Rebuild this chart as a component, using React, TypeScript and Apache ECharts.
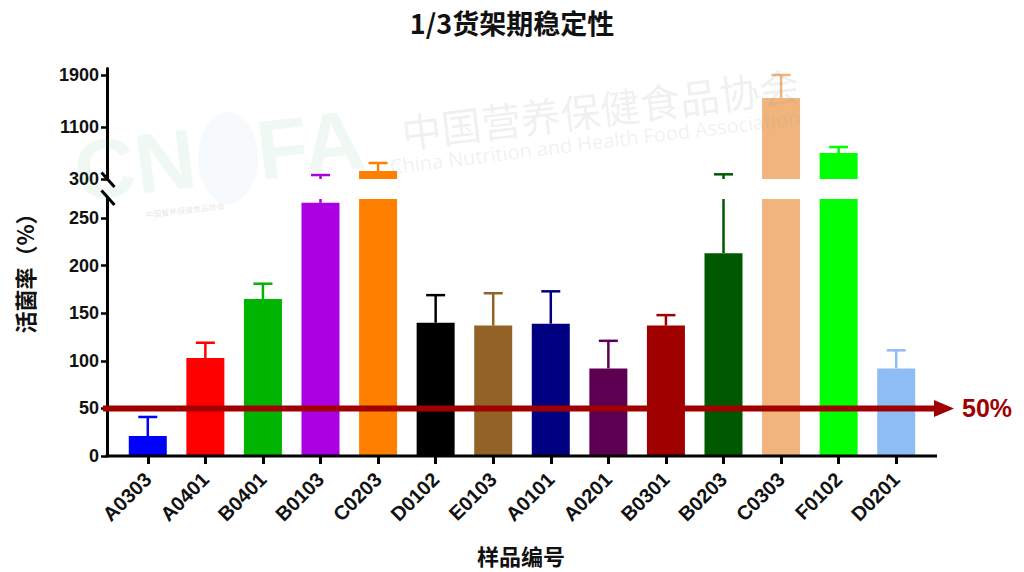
import React, { useEffect, useRef } from 'react';
import * as echarts from 'echarts';

const CATEGORIES = ['A0303', 'A0401', 'B0401', 'B0103', 'C0203', 'D0102', 'E0103', 'A0101', 'A0201', 'B0301', 'B0203', 'C0303', 'F0102', 'D0201'];
const MEANS = [21, 103, 165, 266, 423, 140, 137, 139, 92, 137, 213, 1546, 700, 92];
const ERR_TOPS = [41, 119, 181, 361, 546, 169, 171, 173, 121, 148, 372, 1900, 792, 111];
const COLORS = ['#0000ff', '#ff0000', '#00b400', '#aa00e2', '#ff8000', '#000000', '#936226', '#000080', '#5e0052', '#a00000', '#005800', '#f0b47c', '#00ff00', '#8ebcf4'];
const LOWER_TICKS = [0, 50, 100, 150, 200, 250];
const UPPER_TICKS = [300, 1100, 1900];
const LOWER_MAX = 270;
const UPPER_MIN = 300;
const UPPER_MAX = 2000;
const THRESHOLD = 50;
const THRESHOLD_LABEL = '50%';
const TITLE = '1/3货架期稳定性';
const Y_NAME = '活菌率（%）';
const X_NAME = '样品编号';

const LATIN = '"Liberation Sans", Arial, sans-serif';
const CJK = '"Noto Sans CJK SC", sans-serif';
const RED = '#a00000';

const GRID_LEFT = 119;
const GRID_WIDTH = 806;
const UP_TOP = 68.5;
const UP_H = 110.5;
const LO_TOP = 199;
const LO_H = 257;

function errRender(segment: 'upper' | 'lower') {
  return (params: any, api: any) => {
    const i = params.dataIndex;
    const m = MEANS[i];
    const e = ERR_TOPS[i];
    let lo: number, hi: number, cap: boolean;
    if (segment === 'upper') {
      if (e <= UPPER_MIN) return null;
      lo = Math.max(m, UPPER_MIN);
      hi = e;
      cap = true;
    } else {
      if (m >= LOWER_MAX) return null;
      lo = m;
      hi = Math.min(e, LOWER_MAX);
      cap = e <= LOWER_MAX;
    }
    const p1 = api.coord([i, lo]);
    const p2 = api.coord([i, hi]);
    const color = COLORS[i];
    const children: any[] = [
      { type: 'line', shape: { x1: p1[0], y1: p1[1], x2: p2[0], y2: p2[1] }, style: { stroke: color, lineWidth: 2.5 } },
    ];
    if (cap) {
      children.push({ type: 'line', shape: { x1: p2[0] - 9.5, y1: p2[1], x2: p2[0] + 9.5, y2: p2[1] }, style: { stroke: color, lineWidth: 2.5 } });
    }
    return { type: 'group', children };
  };
}

function buildGraphic(yThr: number): any[] {
  const axisBottom = LO_TOP + LO_H;
  return [
    // watermark
    { type: 'text', x: 600, y: 108, rotation: 0.12, z: 50, style: { text: '中国营养保健食品协会', font: `40px ${CJK}`, fill: 'rgba(160,160,160,0.16)', align: 'center', verticalAlign: 'middle' } },
    { type: 'text', x: 595, y: 142, rotation: 0.12, z: 50, style: { text: 'China Nutrition and Health Food Association', font: `20px "Open Sans", sans-serif`, fill: 'rgba(160,160,160,0.16)', align: 'center', verticalAlign: 'middle' } },
    { type: 'text', x: 135, y: 165, rotation: 0.12, z: 50, style: { text: 'CN', font: `bold 84px ${LATIN}`, fill: 'rgba(40,160,80,0.07)', align: 'center', verticalAlign: 'middle' } },
    { type: 'text', x: 310, y: 145, rotation: 0.12, z: 50, style: { text: 'FA', font: `bold 84px ${LATIN}`, fill: 'rgba(40,160,80,0.07)', align: 'center', verticalAlign: 'middle' } },
    { type: 'ellipse', z: 50, shape: { cx: 228, cy: 158, rx: 30, ry: 46 }, style: { fill: 'rgba(40,120,200,0.04)' } },
    { type: 'text', x: 185, y: 210, rotation: 0.12, z: 50, style: { text: '中国营养保健食品协会', font: `8px ${CJK}`, fill: 'rgba(120,120,120,0.2)', align: 'center', verticalAlign: 'middle' } },
    // x axis line
    { type: 'line', z: 60, shape: { x1: 105.5, y1: axisBottom, x2: 937, y2: axisBottom }, style: { stroke: '#000', lineWidth: 3 } },
    // break marks
    { type: 'line', z: 60, shape: { x1: 101.5, y1: 172.5, x2: 114.5, y2: 187 }, style: { stroke: '#000', lineWidth: 3 } },
    { type: 'line', z: 60, shape: { x1: 101.5, y1: 190.5, x2: 114.5, y2: 205 }, style: { stroke: '#000', lineWidth: 3 } },
    // threshold line with arrow
    { type: 'line', z: 70, shape: { x1: 103, y1: yThr, x2: 937, y2: yThr }, style: { stroke: RED, lineWidth: 6 } },
    { type: 'polygon', z: 70, shape: { points: [[934, yThr - 8.5], [954, yThr], [934, yThr + 8.5]] }, style: { fill: RED } },
    { type: 'text', z: 70, x: 962, y: yThr, style: { text: THRESHOLD_LABEL, font: `bold 25px ${LATIN}`, fill: RED, align: 'left', verticalAlign: 'middle' } },
    // axis names
    { type: 'text', z: 60, x: 24, y: 268, rotation: Math.PI / 2, style: { text: Y_NAME, font: `bold 22px ${CJK}`, fill: '#111', align: 'center', verticalAlign: 'middle' } },
    { type: 'text', z: 60, x: 521, y: 555, style: { text: X_NAME, font: `bold 22px ${CJK}`, fill: '#111', align: 'center', verticalAlign: 'middle' } },
  ];
}

export default function App() {
  const ref = useRef<HTMLDivElement>(null);
  useEffect(() => {
    if (!ref.current) return;
    const chart = echarts.init(ref.current, undefined, { renderer: 'svg' });
    const yLabel = { show: true, color: '#111', fontSize: 18, fontWeight: 'bold', fontFamily: LATIN, margin: 8, formatter: (v: number) => String(v) };
    const yTick = { show: true, length: 6, lineStyle: { color: '#000', width: 2.5 } };
    const yLine = { show: true, lineStyle: { color: '#000', width: 3 } };
    const colorFn = (p: any) => COLORS[p.dataIndex];
    const errData = MEANS.map((m, i) => [i, m, ERR_TOPS[i]]);
    chart.setOption({
      animation: false,
      backgroundColor: '#ffffff',
      title: {
        text: TITLE,
        left: 'center',
        top: 4,
        textStyle: { fontSize: 27, fontWeight: 'bold', color: '#111', fontFamily: CJK },
      },
      grid: [
        { left: GRID_LEFT, width: GRID_WIDTH, top: UP_TOP, height: UP_H },
        { left: GRID_LEFT, width: GRID_WIDTH, top: LO_TOP, height: LO_H },
      ],
      xAxis: [
        {
          type: 'category', gridIndex: 0, data: CATEGORIES,
          axisLine: { show: false }, axisTick: { show: false }, axisLabel: { show: false }, splitLine: { show: false },
        },
        {
          type: 'category', gridIndex: 1, data: CATEGORIES,
          axisLine: { show: false },
          axisTick: { show: true, alignWithLabel: true, length: 8, lineStyle: { color: '#000', width: 3 } },
          axisLabel: { rotate: 45, color: '#111', fontSize: 20, fontWeight: 'bold', fontFamily: LATIN, margin: 20 },
          splitLine: { show: false },
        },
      ],
      yAxis: [
        {
          type: 'value', gridIndex: 0, min: UPPER_MIN, max: UPPER_MAX, offset: 12,
          axisLine: yLine,
          axisTick: { ...yTick, customValues: UPPER_TICKS },
          axisLabel: { ...yLabel, customValues: UPPER_TICKS },
          splitLine: { show: false },
        },
        {
          type: 'value', gridIndex: 1, min: 0, max: LOWER_MAX, interval: 50, offset: 12,
          axisLine: yLine,
          axisTick: { ...yTick, customValues: LOWER_TICKS },
          axisLabel: { ...yLabel, customValues: LOWER_TICKS },
          splitLine: { show: false },
        },
      ],
      series: [
        {
          type: 'bar', xAxisIndex: 0, yAxisIndex: 0, barWidth: 38, clip: true,
          data: MEANS.map((v) => (v > UPPER_MIN ? v : null)),
          itemStyle: { color: colorFn },
        },
        {
          type: 'bar', xAxisIndex: 1, yAxisIndex: 1, barWidth: 38, clip: true,
          data: MEANS.map((v) => Math.min(v, LOWER_MAX)),
          itemStyle: { color: colorFn },
        },
        {
          type: 'custom', xAxisIndex: 0, yAxisIndex: 0, z: 3,
          renderItem: errRender('upper'), data: errData, encode: { x: 0, y: [1, 2] },
        },
        {
          type: 'custom', xAxisIndex: 1, yAxisIndex: 1, z: 3,
          renderItem: errRender('lower'), data: errData, encode: { x: 0, y: [1, 2] },
        },
      ],
    });
    const yThr = chart.convertToPixel({ yAxisIndex: 1 }, THRESHOLD) as unknown as number;
    chart.setOption({ graphic: buildGraphic(yThr) });
    return () => chart.dispose();
  }, []);
  return <div ref={ref} style={{ width: 1024, height: 572, position: 'absolute', left: 0, top: 0 }} />;
}
